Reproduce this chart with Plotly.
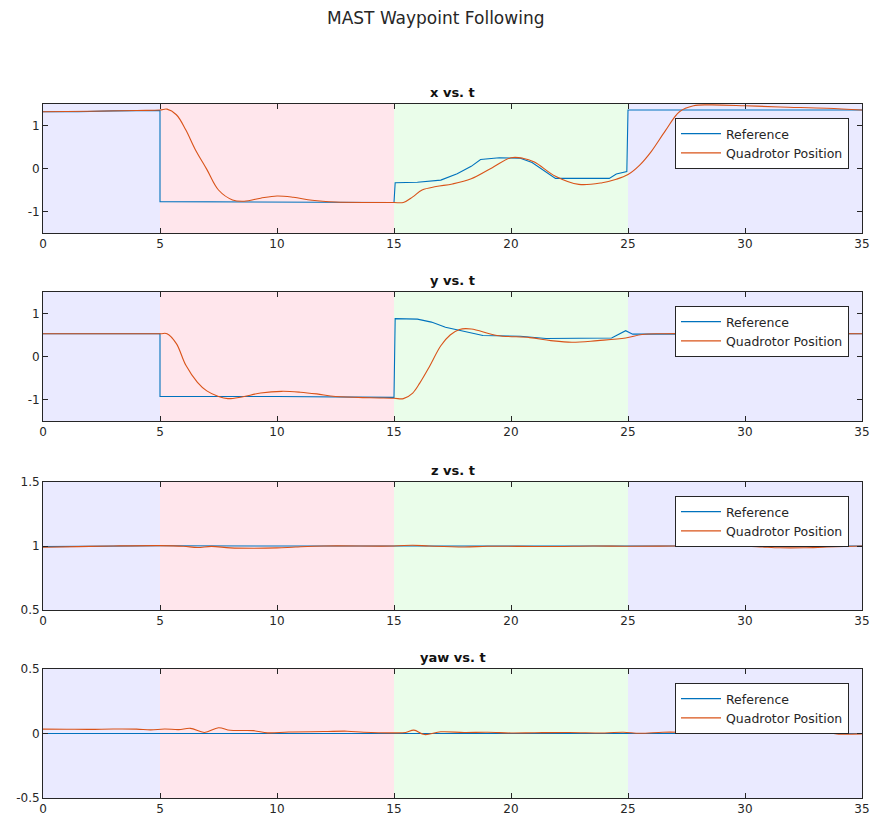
import plotly.graph_objects as go
from plotly.subplots import make_subplots

# ---- time-phase shading (start, end) ----
phase_bounds = [(0, 5), (5, 15), (15, 25), (25, 35)]
phase_colors = ["rgb(234,234,255)", "rgb(255,230,236)", "rgb(234,253,234)", "rgb(234,234,255)"]

# ---- x vs. t ----
x_ref_t = [0, 1.5, 3, 5, 5, 10, 15, 15.05, 16, 17, 17.7, 18.3, 18.7, 19.5, 20.4, 20.9, 21.9, 24.2, 24.5, 24.95, 25.0, 30, 35]
x_ref = [1.32, 1.32, 1.34, 1.35, -0.77, -0.78, -0.79, -0.33, -0.32, -0.27, -0.12, 0.05, 0.21, 0.25, 0.24, 0.14, -0.23, -0.23, -0.13, -0.07, 1.36, 1.36, 1.36]
x_quad_t = [0, 2, 4, 5, 5.3, 5.7, 6.1, 6.5, 7.0, 7.5, 8.1, 8.6, 9.3, 10.0, 10.7, 11.5, 12.5, 14, 15, 15.4, 15.8, 16.2,
            16.8, 17.5, 18.3, 19.2, 20.0, 20.5, 21.0, 21.9, 22.9, 23.9, 24.5, 25.0, 25.5, 26.0, 26.6, 27.2, 27.8,
            28.5, 30, 31.5, 33.5, 35]
x_quad = [1.32, 1.33, 1.35, 1.36, 1.38, 1.25, 0.9, 0.45, -0.02, -0.5, -0.73, -0.76, -0.69, -0.64, -0.67, -0.74, -0.78,
          -0.79, -0.79, -0.79, -0.66, -0.5, -0.42, -0.36, -0.24, 0.02, 0.25, 0.24, 0.15, -0.18, -0.37, -0.33, -0.25,
          -0.14, 0.08, 0.4, 0.88, 1.32, 1.46, 1.48, 1.46, 1.43, 1.40, 1.36]

# ---- y vs. t ----
y_ref_t = [0, 5, 5, 10, 15, 15.05, 16.0, 16.6, 17.2, 18.0, 18.8, 20.4, 21.5, 24.3, 24.7, 24.9, 25.2, 30, 35]
y_ref = [0.53, 0.53, -0.93, -0.93, -0.95, 0.88, 0.87, 0.8, 0.68, 0.58, 0.49, 0.47, 0.42, 0.43, 0.55, 0.6, 0.52, 0.53, 0.53]
y_quad_t = [0, 5, 5.3, 5.7, 6.1, 6.6, 7.0, 7.5, 7.9, 8.5, 9.3, 10.2, 11, 11.7, 12.5, 14, 15, 15.4, 15.8, 16.1,
            16.5, 17.0, 17.4, 17.8, 18.3, 19.4, 20.8, 21.7, 22.6, 23.7, 24.9, 25.6, 26.5, 35]
y_quad = [0.53, 0.53, 0.53, 0.3, -0.2, -0.6, -0.8, -0.93, -0.98, -0.94, -0.85, -0.81, -0.83, -0.87, -0.93, -0.96,
          -0.97, -0.98, -0.85, -0.62, -0.25, 0.25, 0.5, 0.63, 0.64, 0.49, 0.44, 0.37, 0.33, 0.37, 0.43, 0.51, 0.53, 0.53]

# ---- z vs. t ----
z_ref_t = [0, 1.5, 3, 5, 10, 15, 20, 25, 30, 35]
z_ref = [0.995, 0.998, 1.0, 1.002, 1.0, 1.0, 1.0, 1.0, 1.0, 1.0]
z_quad_t = [0, 1.5, 3, 5, 6, 6.6, 7.2, 8.0, 9.0, 10.0, 10.8, 12, 15, 15.8, 16.5, 18, 19, 21, 22, 23.5, 25, 27, 29,
            30.5, 31.5, 32.5, 33.5, 35]
z_quad = [0.99, 0.995, 1.0, 1.003, 0.998, 0.988, 0.997, 0.985, 0.982, 0.985, 0.992, 1.0, 1.0, 1.006, 1.0, 0.992,
          0.998, 0.996, 0.996, 1.0, 0.998, 1.0, 1.002, 0.995, 0.986, 0.986, 0.992, 1.0]

# ---- yaw vs. t ----
yaw_ref_t = [0, 35]
yaw_ref = [0.0, 0.0]
yaw_quad_t = [0, 1, 2, 3, 4, 4.6, 5.2, 5.8, 6.3, 6.9, 7.5, 8.0, 9.0, 9.6, 10.5, 12, 13, 13.7, 15, 15.5, 15.85,
              16.3, 17, 18, 19, 20, 21, 22.5, 24, 24.8, 25.5, 26.5, 27.5, 28.5, 30, 31, 32, 33.3, 34, 35]
yaw_quad = [0.034, 0.033, 0.032, 0.035, 0.034, 0.028, 0.035, 0.03, 0.04, 0.008, 0.045, 0.025, 0.022, 0.005, 0.012,
            0.015, 0.018, 0.01, 0.005, 0.008, 0.026, -0.008, 0.013, 0.008, 0.01, 0.004, 0.006, 0.008, 0.004, 0.01,
            0.002, 0.01, 0.01, 0.012, 0.006, 0.008, 0.008, 0.012, -0.005, -0.003]

panel_titles = ["x vs. t", "y vs. t", "z vs. t", "yaw vs. t"]
panel_ranges = [[-1.5, 1.5], [-1.5, 1.5], [0.5, 1.5], [-0.5, 0.5]]
panel_ticks = [[-1, 0, 1], [-1, 0, 1], [0.5, 1, 1.5], [-0.5, 0, 0.5]]
panel_ticktext = [["-1", "0", "1"], ["-1", "0", "1"], ["0.5", "1", "1.5"], ["-0.5", "0", "0.5"]]
x_ticks = [0, 5, 10, 15, 20, 25, 30, 35]

series = [
    (x_ref_t, x_ref, x_quad_t, x_quad),
    (y_ref_t, y_ref, y_quad_t, y_quad),
    (z_ref_t, z_ref, z_quad_t, z_quad),
    (yaw_ref_t, yaw_ref, yaw_quad_t, yaw_quad),
]

REF_COLOR = "#0072BD"
QUAD_COLOR = "#D95319"
INK = "#262626"
FONT = "DejaVu Sans"

# pixel layout of the four axes boxes
W, H = 874, 820
M_L, M_R, M_T, M_B = 43, 12, 104, 22
box_px = [(104, 233), (292, 421), (482, 610), (669, 798)]
plot_h = H - M_T - M_B
plot_w = W - M_L - M_R


def py(px):
    return (H - M_B - px) / plot_h


fig = make_subplots(rows=4, cols=1)

for i, (rt, rv, qt, qv) in enumerate(series):
    row = i + 1
    leg = "legend" if i == 0 else f"legend{i + 1}"
    fig.add_trace(go.Scatter(x=rt, y=rv, mode="lines", name="Reference",
                             line=dict(color=REF_COLOR, width=1.1), legend=leg), row=row, col=1)
    fig.add_trace(go.Scatter(x=qt, y=qv, mode="lines", name="Quadrotor Position",
                             line=dict(color=QUAD_COLOR, width=1.1, shape="spline", smoothing=1.0),
                             legend=leg), row=row, col=1)

layout = dict(
    width=W, height=H,
    margin=dict(l=M_L, r=M_R, t=M_T, b=M_B, autoexpand=False),
    paper_bgcolor="white", plot_bgcolor="white",
    font=dict(family=FONT, size=12, color=INK),
    shapes=[], annotations=[],
)

for i in range(4):
    ax = "" if i == 0 else str(i + 1)
    top, bot = box_px[i]
    layout[f"yaxis{ax}"] = dict(
        domain=[py(bot), py(top)], range=panel_ranges[i], tickvals=panel_ticks[i],
        ticktext=panel_ticktext[i], ticks="inside", ticklen=5, tickcolor=INK,
        showline=True, linecolor=INK, linewidth=1, mirror="ticks", automargin=False,
        showgrid=False, zeroline=False, tickfont=dict(size=12, color=INK),
    )
    layout[f"xaxis{ax}"] = dict(
        domain=[0, 1], range=[0, 35], tickvals=x_ticks, ticks="inside", ticklen=5, tickcolor=INK,
        showline=True, linecolor=INK, linewidth=1, mirror="ticks", automargin=False,
        showgrid=False, zeroline=False, tickfont=dict(size=12, color=INK),
    )
    for (x0, x1), c in zip(phase_bounds, phase_colors):
        layout["shapes"].append(dict(type="rect", xref=f"x{ax}", yref=f"y{ax} domain",
                                     x0=x0, x1=x1, y0=0, y1=1, fillcolor=c,
                                     line=dict(width=0), layer="below"))
    layout["annotations"].append(dict(text=f"<b>{panel_titles[i]}</b>", xref="paper", yref="paper",
                                      x=0.5, y=py(top), yanchor="bottom", yshift=2, showarrow=False,
                                      font=dict(size=13, color="#111111", family=FONT)))
    leg = "legend" if i == 0 else f"legend{i + 1}"
    layout[leg] = dict(x=(849 - M_L) / plot_w, xanchor="right", y=py(top + 14), yanchor="top",
                       xref="paper", yref="paper", bgcolor="white", bordercolor=INK, borderwidth=1,
                       font=dict(size=12.5, color=INK, family=FONT), tracegroupgap=0,
                       itemwidth=40)

layout["annotations"].append(dict(text="MAST Waypoint Following", xref="paper", yref="paper",
                                  x=(435 - M_L) / plot_w, y=py(18), yanchor="middle",
                                  showarrow=False, font=dict(size=17, color=INK, family=FONT)))

fig.update_layout(**layout)
fig.write_html("out.html")
